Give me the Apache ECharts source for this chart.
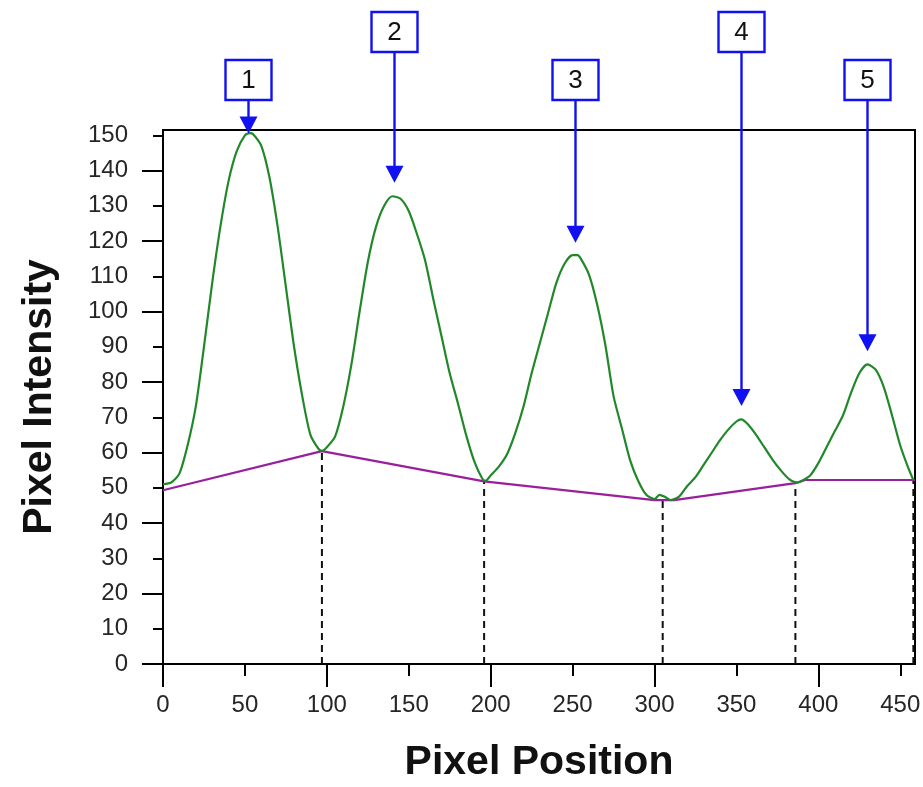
<!DOCTYPE html>
<html>
<head>
<meta charset="utf-8">
<title>Pixel Intensity profile</title>
<script src="https://cdn.jsdelivr.net/npm/echarts@6/dist/echarts.min.js"></script>
<style>
  html, body { margin: 0; padding: 0; background: #fff; }
  #chartmain { width: 923px; height: 787px; }
</style>
</head>
<body>
<div id="chartmain"></div>
<script>
// intensity profile (green)
var profileX = [0, 5, 10, 15, 20, 25, 30, 35, 40, 45, 50, 53, 55, 60, 65, 70, 75, 80, 85, 90, 95, 97,
  100, 105, 110, 115, 120, 125, 130, 135, 140, 145, 150, 155, 160, 165, 170, 175, 180, 185, 190, 195, 197,
  200, 205, 210, 215, 220, 225, 230, 235, 240, 245, 250, 253, 255, 260, 265, 270, 275, 280, 285, 290, 295,
  300, 303, 306, 310, 315, 320, 325, 330, 335, 340, 345, 350, 353, 357, 362, 367, 372, 377, 382, 387,
  390, 395, 400, 405, 410, 415, 420, 425, 430, 435, 440, 445, 450, 455, 458];
var profileY = [51, 51.5, 54, 62, 73, 90, 108, 124, 137, 145.5, 150, 150.6, 150.3, 147, 138, 124, 107, 90, 76, 65, 61, 60.5,
  61.5, 64.5, 73, 85, 100, 114, 124, 130, 132.7, 132, 128.5, 122, 114.5, 103.5, 93, 82.5, 74, 65, 57.5, 52.5, 52,
  53.5, 56, 59.5, 65.5, 73, 82.5, 91, 99.5, 108, 113.5, 116, 116, 115, 110.5, 102, 90.5, 76, 67, 58, 52, 48,
  46.8, 48, 47.5, 46.5, 47.5, 50.5, 53, 56.5, 60, 63.5, 66.5, 68.8, 69.4, 68, 65, 61.5, 58, 55, 52.5, 51.5,
  52, 53.5, 57, 61.5, 66, 70.5, 77, 82.5, 85, 83.5, 78.5, 70.5, 62, 55.5, 52.2];

// background line (purple)
var baseX = [0, 97, 196, 300, 312, 386, 392, 459];
var baseY = [49.3, 60.4, 51.8, 46.5, 46.5, 51.3, 52.2, 52.2];

// dashed dividers between peaks
var dividerX = [97, 196, 305, 386, 458];
var dividerTop = [60.4, 51.8, 46.5, 51.3, 52.2];

// numbered peak arrows
var peakLabels = ['1', '2', '3', '4', '5'];
var peakX = [52, 141, 251.5, 353, 430];
var arrowTip = [150.5, 136.5, 119.5, 73.2, 88.7];
var boxLevel = [165.7, 179.3, 165.7, 179.3, 165.7];

// axis ticks and labels
var xLabels = [0, 50, 100, 150, 200, 250, 300, 350, 400, 450];
var xMajorTicks = [0, 100, 200, 300, 400];
var xMinorTicks = [50, 150, 250, 350, 450];
var yLabels = [0, 10, 20, 30, 40, 50, 60, 70, 80, 90, 100, 110, 120, 130, 140, 150];
var yMajorTicks = [0, 20, 40, 60, 80, 100, 120, 140];
var yMinorTicks = [10, 30, 50, 70, 90, 110, 130, 150];

var xMax = 459, yMax = 151.5;
var labelFont = { color: '#262626', fontSize: 24, fontFamily: 'Liberation Sans, Arial, sans-serif' };
var titleFont = { color: '#111', fontSize: 41, fontWeight: 'bold', fontFamily: 'Liberation Sans, Arial, sans-serif' };
var black = { color: '#000', width: 2 };

function zip(a, b) {
  return a.map(function (v, i) { return [v, b[i]]; });
}

var dividerSeries = dividerX.map(function (x, i) {
  return {
    type: 'line', xAxisIndex: 0, yAxisIndex: 0, symbol: 'none', silent: true, z: 1,
    lineStyle: { color: '#111', width: 2, type: [7, 5] },
    data: [[x, 0], [x, dividerTop[i]]]
  };
});

var option = {
  backgroundColor: '#fff',
  animation: false,
  grid: {
    left: 163, right: 8, top: 130, bottom: 123, outerBoundsMode: 'none', containLabel: false,
    show: true, borderColor: '#000', borderWidth: 2
  },
  xAxis: [{
    type: 'value', min: 0, max: xMax,
    name: 'Pixel Position', nameLocation: 'middle', nameGap: 78, nameTextStyle: titleFont,
    axisLine: { lineStyle: black },
    axisTick: { show: true, length: 12, lineStyle: black, customValues: xMinorTicks },
    axisLabel: Object.assign({ margin: 29, customValues: xLabels }, labelFont),
    splitLine: { show: false }
  }, {
    type: 'value', min: 0, max: xMax, position: 'bottom',
    axisLine: { show: false },
    axisTick: { show: true, length: 23, lineStyle: black, customValues: xMajorTicks },
    axisLabel: { show: false },
    splitLine: { show: false }
  }],
  yAxis: [{
    type: 'value', min: 0, max: yMax,
    name: 'Pixel Intensity', nameLocation: 'middle', nameGap: 103, nameTextStyle: titleFont,
    axisLine: { show: true, lineStyle: black },
    axisTick: { show: true, length: 10, lineStyle: black, customValues: yMinorTicks },
    axisLabel: Object.assign({ margin: 35, customValues: yLabels }, labelFont),
    splitLine: { show: false }
  }, {
    type: 'value', min: 0, max: yMax, position: 'left',
    axisLine: { show: false },
    axisTick: { show: true, length: 21, lineStyle: black, customValues: yMajorTicks },
    axisLabel: { show: false },
    splitLine: { show: false }
  }],
  series: dividerSeries.concat([{
    name: 'Baseline', type: 'line', symbol: 'none', z: 2,
    lineStyle: { color: '#9a1f9e', width: 2.2 },
    data: zip(baseX, baseY)
  }, {
    name: 'Profile', type: 'line', symbol: 'none', smooth: 0.25, z: 3,
    lineStyle: { color: '#21882a', width: 2.2 },
    data: zip(profileX, profileY)
  }, {
    name: 'Peaks', type: 'custom', clip: false, silent: true, z: 5,
    data: peakX.map(function (x, i) { return [x, arrowTip[i], boxLevel[i], i]; }),
    renderItem: function (params, api) {
      var tip = api.coord([api.value(0), api.value(1)]);
      var box = api.coord([api.value(0), api.value(2)]);
      var cx = Math.round(tip[0]) + 0.5;
      var bw = 46, bh = 40, head = 17;
      return {
        type: 'group',
        children: [{
          type: 'line',
          shape: { x1: cx, y1: box[1] + bh / 2, x2: cx, y2: tip[1] - head + 2 },
          style: { stroke: '#1010f0', lineWidth: 2.4 }
        }, {
          type: 'polygon',
          shape: { points: [[cx - 9, tip[1] - head], [cx + 9, tip[1] - head], [cx, tip[1]]] },
          style: { fill: '#1010f0' }
        }, {
          type: 'rect',
          shape: { x: cx - bw / 2, y: box[1] - bh / 2, width: bw, height: bh },
          style: { fill: '#fff', stroke: '#1010f0', lineWidth: 2.4 }
        }, {
          type: 'text',
          x: cx, y: box[1] + 1,
          style: {
            text: peakLabels[api.value(3)], fill: '#111', fontSize: 26,
            fontFamily: 'Liberation Sans, Arial, sans-serif', align: 'center', verticalAlign: 'middle'
          }
        }]
      };
    }
  }])
};

var chartmain = echarts.init(document.getElementById('chartmain'));
chartmain.setOption(option);
</script>
</body>
</html>
